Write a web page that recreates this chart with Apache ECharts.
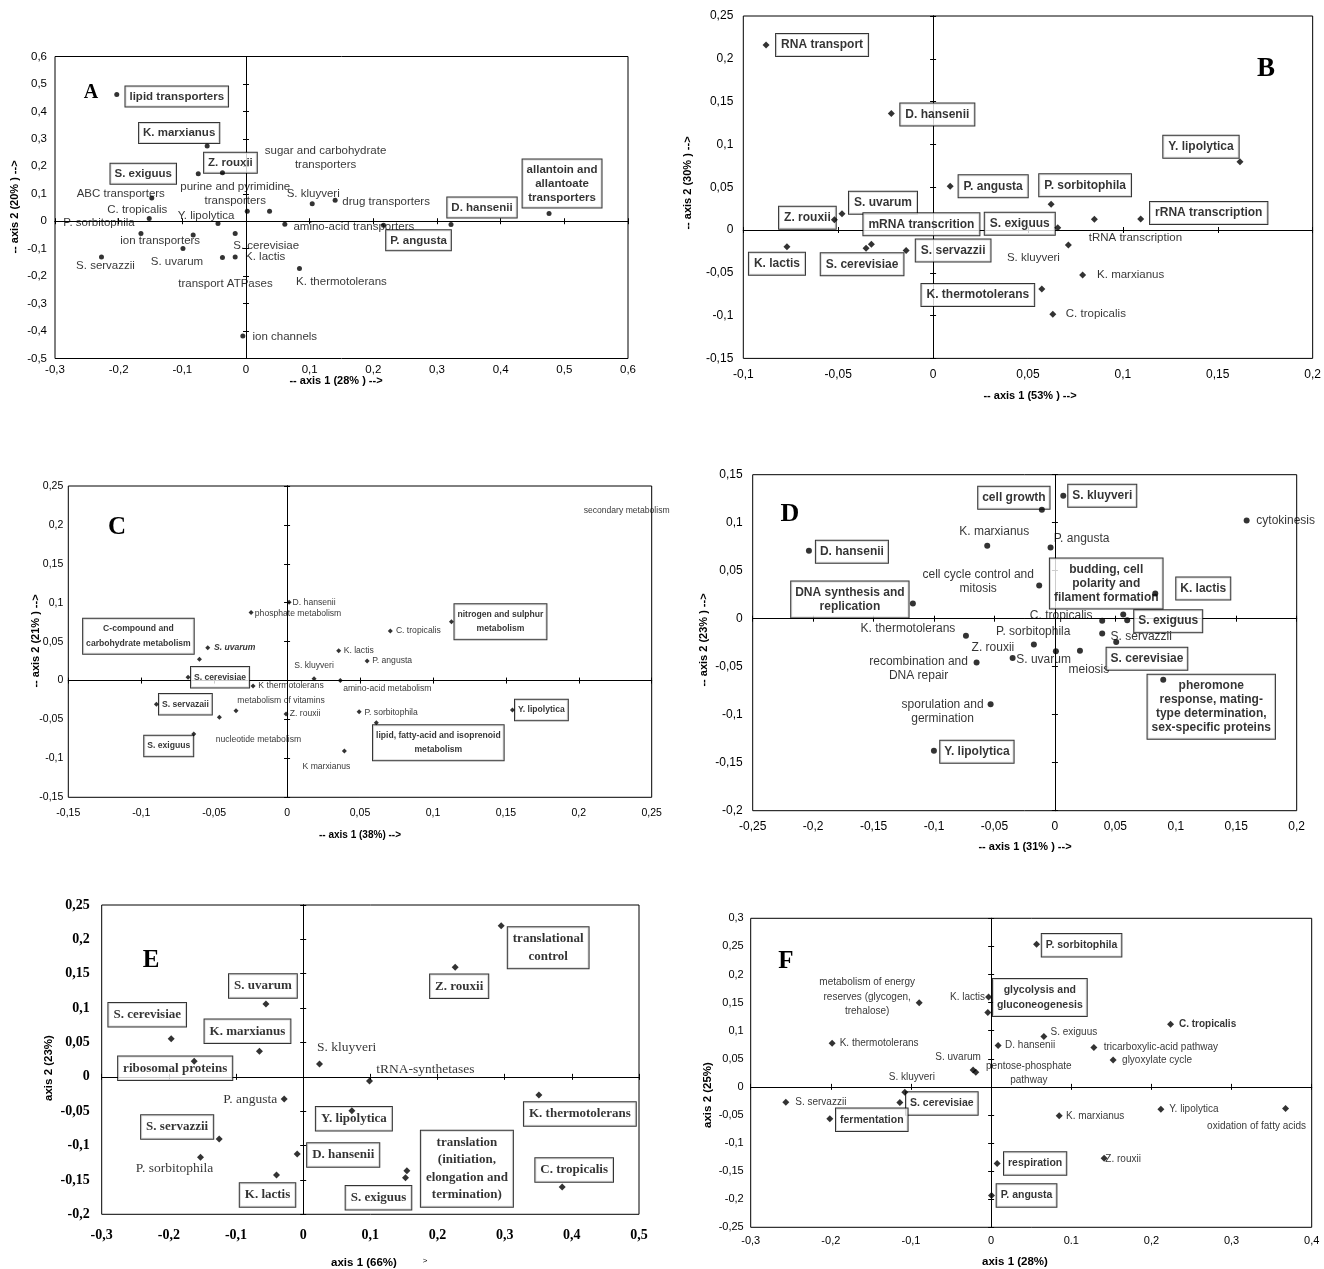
<!DOCTYPE html>
<html>
<head>
<meta charset="utf-8">
<script src="https://cdn.jsdelivr.net/npm/echarts/dist/echarts.min.js"></script>
<style>
html,body{margin:0;padding:0;background:#fff;}
#chart{width:1324px;height:1269px;}
</style>
</head>
<body>
<div id="chart"></div>
<script>
// ---------- A : transporters ----------
const aNames = ['lipid transporters','K. marxianus','Z. rouxii','S. exiguus','ABC transporters','C. tropicalis',
  'P. sorbitophila','ion transporters','Y. lipolytica','S. uvarum','S. servazzii','S. cerevisiae','K. lactis',
  'transport ATPases','K. thermotolerans','ion channels','purine and pyrimidine\ntransporters',
  'sugar and carbohydrate\ntransporters','S. kluyveri','drug transporters','amino-acid transporters',
  'P. angusta','D. hansenii','allantoin and\nallantoate\ntransporters'];
const aAxis1 = [-0.203,-0.061,-0.037,-0.075,-0.148,-0.152,-0.165,-0.083,-0.044,-0.099,-0.227,-0.017,-0.017,
  -0.037,0.084,-0.005,0.002,0.037,0.104,0.140,0.061,0.216,0.322,0.476];
const aAxis2 = [0.462,0.274,0.177,0.173,0.085,0.010,-0.045,-0.050,-0.008,-0.099,-0.130,-0.045,-0.130,
  -0.132,-0.172,-0.418,0.036,0.036,0.064,0.076,-0.011,-0.015,-0.012,0.028];

// ---------- B : transcription / RNA ----------
const bNames = ['RNA transport','D. hansenii','P. angusta','S. uvarum','Z. rouxii','mRNA transcrition','S. cerevisiae',
  'K. lactis','S. servazzii','K. thermotolerans','S. exiguus','P. sorbitophila','tRNA transcription',
  'rRNA transcription','S. kluyveri','K. marxianus','C. tropicalis','Y. lipolytica'];
const bAxis1 = [-0.088,-0.022,0.009,-0.048,-0.052,-0.0325,-0.0353,-0.077,-0.0142,0.0573,0.0657,0.0622,0.085,
  0.1094,0.0713,0.0788,0.0631,0.1617];
const bAxis2 = [0.216,0.136,0.051,0.019,0.012,-0.0167,-0.0214,-0.0195,-0.024,-0.069,0.0027,0.030,0.0125,
  0.0128,-0.0175,-0.0526,-0.0985,0.0798];

// ---------- C : metabolism ----------
const cNames = ['D. hansenii','phosphate metabolism','S. uvarum','C-compound and\ncarbohydrate metabolism','S. cerevisiae',
  'K thermotolerans','metabolism of vitamins','nucleotide metabolism','S. servazaii','S. exiguus','Z. rouxii',
  'S. kluyveri','amino-acid metabolism','K. lactis','P. angusta','C. tropicalis','nitrogen and sulphur\nmetabolism',
  'secondary metabolism','P. sorbitophila','lipid, fatty-acid and isoprenoid\nmetabolism','K marxianus','Y. lipolytica'];
const cAxis1 = [0.0014,-0.0247,-0.0544,-0.0601,-0.0679,-0.0233,-0.035,-0.0464,-0.0896,-0.064,-0.0007,
  0.0185,0.0365,0.0354,0.0549,0.0708,0.1127,0.2328,0.0494,0.0612,0.0393,0.1545];
const cAxis2 = [0.1006,0.0873,0.0423,0.0274,0.0042,-0.0069,-0.0387,-0.0472,-0.0305,-0.0686,-0.0429,
  0.0024,0.0,0.0384,0.0252,0.0638,0.0757,0.2184,-0.040,-0.0541,-0.0905,-0.0378];

// ---------- D : cell cycle ----------
const dNames = ['D. hansenii','DNA synthesis and\nreplication','K. marxianus','cell growth','S. kluyveri','cytokinesis',
  'P. angusta','cell cycle control and\nmitosis','budding, cell\npolarity and\nfilament formation','K. lactis',
  'C. tropicalis','S. exiguus','P. sorbitophila','S. servazzii','Z. rouxii','S. uvarum','meiosis','S. cerevisiae',
  'K. thermotolerans','recombination and\nDNA repair','sporulation and\ngermination','Y. lipolytica',
  'pheromone\nresponse, mating-\ntype determination,\nsex-specific proteins'];
const dAxis1 = [-0.2035,-0.1175,-0.056,-0.0108,0.0069,0.1586,-0.0036,-0.013,0.0565,0.083,0.0391,0.0598,0.0391,
  0.0507,-0.0174,-0.035,0.0008,0.0207,-0.0736,-0.0648,-0.0532,-0.1001,0.0896];
const dAxis2 = [0.0707,0.0158,0.0759,0.1134,0.128,0.1023,0.0742,0.0346,0.0044,0.0263,-0.0022,-0.0015,-0.0154,
  -0.0244,-0.0269,-0.041,-0.0338,-0.0334,-0.0178,-0.0456,-0.089,-0.1376,-0.0636];

// ---------- E : protein synthesis ----------
const eNames = ['S. uvarum','S. cerevisiae','K. marxianus','ribosomal proteins','S. kluyveri','tRNA-synthetases',
  'P. angusta','S. servazzii','P. sorbitophila','D. hansenii','K. lactis','Y. lipolytica','Z. rouxii',
  'translational\ncontrol','S. exiguus','translation\n(initiation,\nelongation and\ntermination)',
  'K. thermotolerans','C. tropicalis'];
const eAxis1 = [-0.0555,-0.1965,-0.0651,-0.1623,0.0243,0.0987,-0.0283,-0.1251,-0.1529,-0.0089,-0.0397,0.0725,
  0.2263,0.2948,0.1523,0.1544,0.3509,0.3856];
const eAxis2 = [0.1059,0.0554,0.0371,0.0225,0.0186,-0.0061,-0.0323,-0.0905,-0.1171,-0.1123,-0.1429,-0.0493,
  0.1593,0.2198,-0.1468,-0.1366,-0.0265,-0.1603];

// ---------- F : energy ----------
const fNames = ['P. sorbitophila','metabolism of energy\nreserves (glycogen,\ntrehalose)','K. lactis',
  'glycolysis and\ngluconeogenesis','K. thermotolerans','D. hansenii','S. exiguus','C. tropicalis',
  'tricarboxylic-acid pathway','glyoxylate cycle','S. uvarum','pentose-phosphate\npathway','S. kluyveri',
  'S. servazzii','S. cerevisiae','fermentation','K. marxianus','Y. lipolytica','oxidation of fatty acids',
  'Z. rouxii','respiration','P. angusta'];
const fAxis1 = [0.0567,-0.0898,-0.0032,-0.0041,-0.1984,0.0087,0.0658,0.2239,0.1282,0.1522,-0.0225,-0.0191,
  -0.1077,-0.2562,-0.1139,-0.2013,0.0849,0.2118,0.3674,0.141,0.0075,0.0005];
const fAxis2 = [0.2539,0.1495,0.1601,0.1322,0.0778,0.0735,0.0895,0.1116,0.0699,0.048,0.0302,0.0262,
  -0.0094,-0.0272,-0.0279,-0.0569,-0.0516,-0.0397,-0.0386,-0.1269,-0.1365,-0.1934];

// label placement (pixel offset of label centre from its marker), one entry per point
const aLabelShift = [[60,2],[-28,-13],[8,-10],[-55,0],[-31,-4],[-12,-9],[-42,-11],[-33,6],[-12,-8],[-6,13],[4,9],
  [31,12],[30,0],[3,26],[42,13],[42,1],[-12,-18],[56,-54],[1,-10],[51,1],[69,3],[35,15],[31,-17],[13,-30]];
const bLabelShift = [[56,0],[46,1],[43,0],[41,-11],[-27,-2],[50,-20],[-4,16],[-10,17],[47,0],[-64,6],[-38,-4],
  [34,-19],[41,19],[68,-6],[-35,13],[48,0],[43,0],[-39,-15]];
const cLabelShift = [[25,0],[47,1],[27,0],[-61,-23],[32,0],[38,0],[45,-10],[39,22],[29,0],[-25,12],[19,0],[0,-13],
  [47,8],[20,0],[25,0],[28,0],[49,0],[0,0],[32,1],[62,20],[-18,16],[29,0]];
const dLabelShift = [[43,1],[-63,-4],[7,-14],[-28,-12],[39,0],[39,0],[31,-9],[-61,-4],[-17,-31],[48,-5],[-41,-5],
  [41,1],[-69,-2],[25,-5],[-41,3],[31,2],[33,19],[67,8],[-58,-7],[-58,6],[-48,8],[43,1],[48,27]];
const eLabelShift = [[-3,-18],[-24,-24],[-12,-20],[-19,7],[27,-17],[56,-12],[-34,0],[-42,-12],[-26,11],[46,1],
  [-9,20],[2,8],[4,19],[47,22],[-27,20],[60,-2],[41,19],[12,-17]];
const fLabelShift = [[45,1],[-52,-6],[-21,0],[52,-15],[47,0],[32,0],[30,-4],[37,0],[67,0],[44,0],[-15,-13],[53,1],
  [7,-15],[35,0],[42,1],[42,1],[36,0],[33,0],[-29,18],[19,1],[38,0],[35,0]];

// which labels are drawn in a framed box
const aBoxed = ['lipid transporters','K. marxianus','Z. rouxii','S. exiguus','P. angusta','D. hansenii','allantoin and\nallantoate\ntransporters'];
const bBoxed = bNames.filter(n => !['tRNA transcription','S. kluyveri','K. marxianus','C. tropicalis'].includes(n));
const cBoxed = ['C-compound and\ncarbohydrate metabolism','S. cerevisiae','S. servazaii','S. exiguus','nitrogen and sulphur\nmetabolism','lipid, fatty-acid and isoprenoid\nmetabolism','Y. lipolytica'];
const dBoxed = ['D. hansenii','DNA synthesis and\nreplication','cell growth','S. kluyveri','budding, cell\npolarity and\nfilament formation','K. lactis','S. exiguus','S. cerevisiae','Y. lipolytica','pheromone\nresponse, mating-\ntype determination,\nsex-specific proteins'];
const eBoxed = eNames.filter(n => !['S. kluyveri','tRNA-synthetases','P. angusta','P. sorbitophila'].includes(n));
const fBoxed = ['P. sorbitophila','glycolysis and\ngluconeogenesis','S. cerevisiae','fermentation','respiration','P. angusta'];

const comma = v => { let s = String(+Number(v).toFixed(2)); if (s === '-0') s = '0'; return s.replace('.', ','); };
const commaF = v => (Math.abs(v - 0.1) < 1e-9 ? '0.1' : comma(v));

const SANS = 'Liberation Sans';
const SERIF = 'Liberation Serif';

const panels = [
  { names:aNames, xs:aAxis1, ys:aAxis2, shift:aLabelShift, boxed:aBoxed, bold:[], italic:[], noMark:[],
    grid:{left:55, top:56.5, width:573, height:302}, x:[-0.3,0.6,0.1], y:[-0.5,0.6,0.1],
    font:SANS, size:11.5, boxSize:11.5, lh:14, pad:[3,4], symbol:'circle', symbolSize:5,
    tick:{font:SANS, size:11.5, weight:'normal', xm:5, ym:8}, fx:comma },
  { names:bNames, xs:bAxis1, ys:bAxis2, shift:bLabelShift, boxed:bBoxed, bold:[], italic:[], noMark:[],
    grid:{left:743.3, top:16, width:572, height:342.4}, x:[-0.1,0.2,0.05], y:[-0.15,0.25,0.05],
    font:SANS, size:11.5, boxSize:12, lh:14, pad:[4,5], symbol:'diamond', symbolSize:7,
    tick:{font:SANS, size:12, weight:'normal', xm:10, ym:10}, fx:comma },
  { names:cNames, xs:cAxis1, ys:cAxis2, shift:cLabelShift, boxed:cBoxed, bold:['S. uvarum'], italic:['S. uvarum'], noMark:['secondary metabolism'],
    grid:{left:68.3, top:486, width:583.4, height:311.3}, x:[-0.15,0.25,0.05], y:[-0.15,0.25,0.05],
    font:SANS, size:8.6, boxSize:8.6, lh:14.5, pad:[3,3], symbol:'diamond', symbolSize:5,
    tick:{font:SANS, size:10.5, weight:'normal', xm:10, ym:5}, fx:comma },
  { names:dNames, xs:dAxis1, ys:dAxis2, shift:dLabelShift, boxed:dBoxed, bold:[], italic:[], noMark:[],
    grid:{left:752.7, top:474.7, width:544, height:336}, x:[-0.25,0.2,0.05], y:[-0.2,0.15,0.05],
    font:SANS, size:12, boxSize:12, lh:14, pad:[4,4], symbol:'circle', symbolSize:6,
    tick:{font:SANS, size:12, weight:'normal', xm:10, ym:10}, fx:comma },
  { names:eNames, xs:eAxis1, ys:eAxis2, shift:eLabelShift, boxed:eBoxed, bold:[], italic:[], noMark:[],
    grid:{left:101.7, top:905, width:537.3, height:309.3}, x:[-0.3,0.5,0.1], y:[-0.2,0.25,0.05],
    font:SERIF, size:13.5, boxSize:13, lh:17.5, pad:[3,5], symbol:'diamond', symbolSize:7,
    tick:{font:SERIF, size:14, weight:'bold', xm:14, ym:12}, fx:comma },
  { names:fNames, xs:fAxis1, ys:fAxis2, shift:fLabelShift, boxed:fBoxed, bold:['C. tropicalis'], italic:[], noMark:[],
    grid:{left:750.7, top:918.3, width:561, height:309}, x:[-0.3,0.4,0.1], y:[-0.25,0.3,0.05],
    font:SANS, size:10, boxSize:10.5, lh:14.5, pad:[4,4], symbol:'diamond', symbolSize:7,
    tick:{font:SANS, size:11, weight:'normal', xm:8, ym:7}, fx:commaF }
];

const grids = [], xAxes = [], yAxes = [], series = [];

function axisSet(gi, dim, range, tick, fmt) {
  const base = { type:'value', gridIndex:gi, min:range[0], max:range[1], interval:range[2], splitLine:{show:false} };
  const pos = dim === 'x' ? 'bottom' : 'left';
  const line = { show:true, onZero:true, lineStyle:{color:'#000', width:1} };
  return [
    Object.assign({}, base, { position:pos, axisLine:{show:false, onZero:false}, axisTick:{show:false},
      axisLabel:{ show:true, formatter:fmt, color:'#000', fontFamily:tick.font, fontSize:tick.size,
        fontWeight:tick.weight, margin: dim === 'x' ? tick.xm : tick.ym, showMinLabel:true, showMaxLabel:true } }),
    Object.assign({}, base, { position:pos, axisLine:line, axisTick:{show:true, inside:false, length:3, lineStyle:{color:'#000'}}, axisLabel:{show:false} }),
    Object.assign({}, base, { position:pos, axisLine:line, axisTick:{show:true, inside:true, length:3, lineStyle:{color:'#000'}}, axisLabel:{show:false} })
  ];
}

panels.forEach((p, gi) => {
  grids.push(Object.assign({ show:true, borderColor:'#000', borderWidth:1, backgroundColor:'transparent' }, p.grid));
  xAxes.push(...axisSet(gi, 'x', p.x, p.tick, p.fx));
  yAxes.push(...axisSet(gi, 'y', p.y, p.tick, comma));
  const labelled = p.names.map((name, i) => {
    const boxed = p.boxed.includes(name);
    const label = {
      show:true, position:'inside', formatter:'{b}', offset:p.shift[i], color:'#000',
      fontFamily:p.font, fontSize: boxed ? p.boxSize : p.size,
      fontWeight: (boxed || p.bold.includes(name)) ? 'bold' : 'normal',
      fontStyle: p.italic.includes(name) ? 'italic' : 'normal',
      lineHeight:p.lh, align:'center', verticalAlign:'middle', textBorderWidth:0
    };
    if (boxed) Object.assign(label, { backgroundColor:'#fff', borderColor:'#000', borderWidth:1, padding:p.pad });
    return { name, value:[p.xs[i], p.ys[i]], label };
  });
  const marks = p.names.map((name, i) => {
    const item = { name, value:[p.xs[i], p.ys[i]] };
    if (p.noMark.includes(name)) item.symbolSize = 0;
    return item;
  });
  // names first, markers drawn on top of the label boxes
  series.push({ type:'scatter', xAxisIndex:gi * 3, yAxisIndex:gi * 3, symbolSize:0, z:2, silent:true, data:labelled });
  series.push({ type:'scatter', xAxisIndex:gi * 3, yAxisIndex:gi * 3, symbol:p.symbol, symbolSize:p.symbolSize, z:5,
    itemStyle:{color:'#000'}, label:{show:false}, silent:true, data:marks });
});

// panel letters and axis titles
function txt(text, x, y, font, rot) {
  return { type:'text', x, y, rotation: rot || 0, z:100,
    style:{ text, font, fill:'#000', align:'center', verticalAlign:'middle', textAlign:'center', textVerticalAlign:'middle' } };
}
const R = Math.PI / 2;
const graphic = [
  txt('A', 91, 93, 'bold 20px ' + SERIF),
  txt('-- axis 1 (28% ) -->', 336, 381, 'bold 11px ' + SANS),
  txt('-- axis 2 (20% ) -->', 15, 207, 'bold 11px ' + SANS, R),
  txt('B', 1266, 69, 'bold 27px ' + SERIF),
  txt('-- axis 1 (53% ) -->', 1030, 396, 'bold 11px ' + SANS),
  txt('-- axis 2 (30% ) -->', 688, 183, 'bold 11px ' + SANS, R),
  txt('C', 117, 528, 'bold 25px ' + SERIF),
  txt('-- axis 1 (38%) -->', 360, 835, 'bold 10px ' + SANS),
  txt('-- axis 2 (21% ) -->', 36, 641, 'bold 11px ' + SANS, R),
  txt('D', 790, 514, 'bold 26px ' + SERIF),
  txt('-- axis 1 (31% ) -->', 1025, 847, 'bold 11px ' + SANS),
  txt('-- axis 2 (23% ) -->', 704, 640, 'bold 11px ' + SANS, R),
  txt('E', 151, 961, 'bold 25px ' + SERIF),
  txt('axis 1 (66%)', 364, 1263, 'bold 11.5px ' + SANS),
  txt('>', 425, 1261, '8px ' + SANS),
  txt('axis 2 (23%)', 49, 1068, 'bold 11.5px ' + SANS, R),
  txt('F', 786, 962, 'bold 25px ' + SERIF),
  txt('axis 1 (28%)', 1015, 1262, 'bold 11.5px ' + SANS),
  txt('axis 2 (25%)', 708, 1095, 'bold 11.5px ' + SANS, R)
];

const chart = echarts.init(document.getElementById('chart'), null, { renderer:'canvas' });
chart.setOption({
  animation:false,
  backgroundColor:'#fff',
  grid:grids, xAxis:xAxes, yAxis:yAxes, series, graphic
});
</script>
</body>
</html>
